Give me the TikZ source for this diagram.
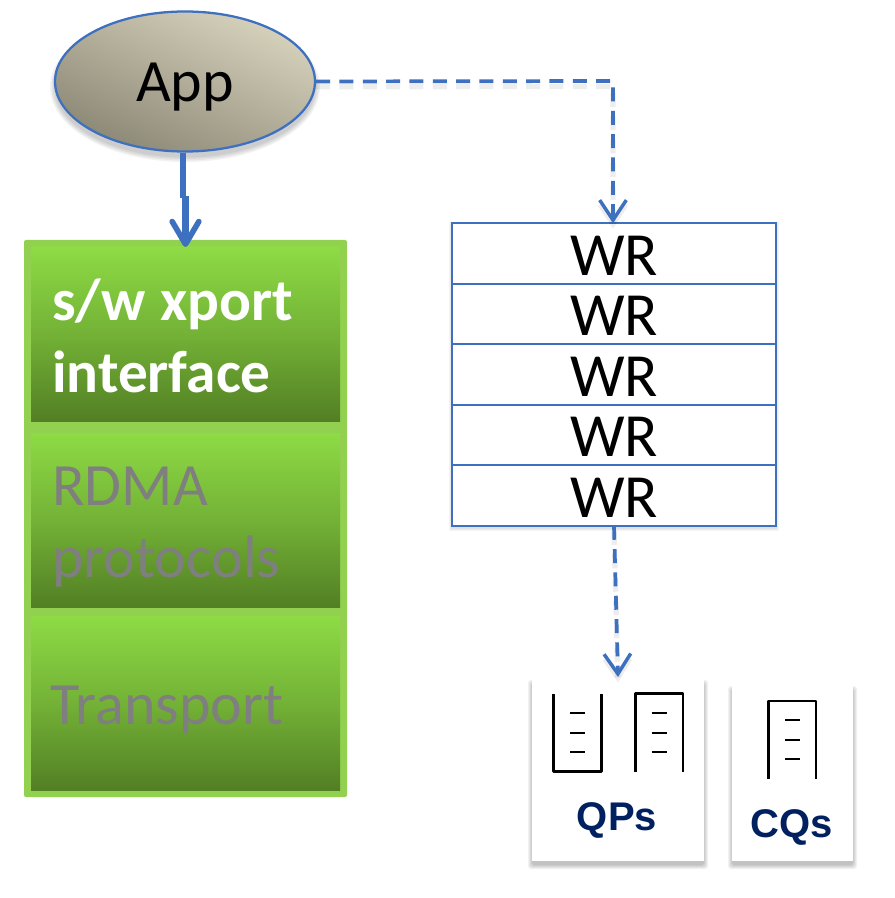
\documentclass[tikz,border=0pt]{standalone}
\usepackage{fontspec}
\setmainfont{Carlito}
\newfontfamily\arialf{Liberation Sans}
\usetikzlibrary{arrows.meta,shapes.geometric,positioning,calc}
\definecolor{lineblue}{HTML}{3E70C0}
\definecolor{outergreen}{HTML}{92D050}
\definecolor{topgreen}{HTML}{8EDB45}
\definecolor{botgreen}{HTML}{527F24}
\definecolor{navy}{HTML}{002060}
\definecolor{greytext}{HTML}{7F7F7F}
\definecolor{tanlight}{HTML}{D6D2BC}
\definecolor{tandark}{HTML}{8C8876}
\newcommand{\lowered}[2]{\raisebox{-#1}[\height][\depth]{#2}}
\tikzset{
  x=0.75pt,y=-0.75pt,
  layerbox/.style={minimum width=231.75pt,minimum height=130.5pt,inner sep=0pt,outer sep=0pt,
     top color=topgreen,bottom color=botgreen,middle color=topgreen!55!botgreen},
  layertext/.style={font=\fontsize{45}{54}\selectfont,align=left,text width=220pt,inner sep=0pt,anchor=west},
  wrbox/.style={draw=lineblue,line width=1.7pt,fill=white,minimum width=243pt,minimum height=45.4pt,inner sep=0pt,outer sep=0pt,
     font=\fontsize{46}{46}\selectfont},
  card/.style={fill=white,inner sep=0pt,outer sep=0pt},
  cardlabel/.style={font=\arialf\bfseries\fontsize{30}{30}\selectfont,text=navy,inner sep=0pt},
  dashconn/.style={draw=lineblue,line width=2.8pt,dash pattern=on 10.5pt off 7pt,
     -{Straight Barb[length=15pt,width=20pt,line width=2.6pt]},
     preaction={draw=black,opacity=0.07,line width=4pt,dash pattern=on 10.5pt off 7pt,transform canvas={yshift=-4pt}}},
  qline/.style={line width=1.8pt,black,line join=round},
}
\newcommand{\softshadow}[5]{% x1 y1 x2 y2 offset
  \foreach \g in {4,3,2,1,0}{
    \fill[black,opacity=0.05,rounded corners=2pt] (#1-\g,#2+#5-\g) rectangle (#3+\g,#4+#5+\g);
  }
}
\begin{document}
\begin{tikzpicture}
\useasboundingbox (0,0) rectangle (894,898);
\fill[white] (0,0) rectangle (894,898);

% green stack
\fill[outergreen,rounded corners=1.5pt] (24,240) rectangle (347,797);
\node[layerbox,minimum height=130.5pt] (sw) at (185.5,334) {};
\node[layerbox] (rdma) at (185.5,520) {};
\node[layerbox] (trans) at (185.5,703) {};
\node[layertext,text=white,font=\fontsize{44.5}{54}\selectfont\bfseries] (swt) at (52,336) {s/w\hspace{-0.09em} xport\\interface};
\node[layertext,text=greytext] (rdmat) at (52,527) {RDMA\\protocols};
\node[layertext,text=greytext] (transt) at (50,710) {Transport};

% App
\foreach \g in {5,3.5,2,0.5}{
  \fill[black,opacity=0.05] (185,87) ellipse ({130+\g} and {70+\g});
}
\node[ellipse,draw=lineblue,line width=1.7pt,minimum width=195pt,minimum height=105pt,inner sep=0pt,
  top color=tanlight,bottom color=tandark,shading angle=-25,
  font=\fontsize{45}{45}\selectfont] (app) at (185,81.5) {\lowered{4pt}{App}};

% WR stack
\foreach \g in {3,2,1}{
  \fill[black,opacity=0.04] (452-\g,223-\g+2) rectangle (776+\g,526+\g+2);
}
\node[wrbox] (w1) at (614,253.5) {\lowered{1.5pt}{WR}};
\node[wrbox] (w2) at (614,314) {\lowered{1.5pt}{WR}};
\node[wrbox] (w3) at (614,374.5) {\lowered{1.5pt}{WR}};
\node[wrbox] (w4) at (614,435) {\lowered{1.5pt}{WR}};
\node[wrbox] (w5) at (614,495.5) {\lowered{1.5pt}{WR}};

% cards
\softshadow{532}{680}{704}{861}{4}
\softshadow{732}{686}{853}{861}{4}
\node[card,minimum width=129pt,minimum height=135.75pt] (qpc) at (618,770.5) {};
\node[card,minimum width=90.75pt,minimum height=131.25pt] (cqc) at (792.5,773.5) {};
\node[cardlabel] (qp) at (617,820) {QPs};
\node[cardlabel] (cq) at (792,827) {CQs};

% queue glyphs
\draw[qline] (553.5,694) -- (553.5,771.5) -- (601.5,771.5) -- (601.5,694);
\draw[qline] (635.5,771.5) -- (635.5,693.5) -- (683,693.5) -- (683,771.5);
\draw[qline] (768.5,778.5) -- (768.5,701) -- (816,701) -- (816,778.5);
\foreach \y in {713,733,752}{
  \draw[qline] (570,\y) -- (585,\y);
  \draw[qline] (651.5,\y) -- (667,\y);
}
\foreach \y in {720,740,759}{
  \draw[qline] (785,\y) -- (800,\y);
}

% connectors
\coordinate (jog1) at (183,198);
\coordinate (jog2) at (185.5,196);
\draw[lineblue,line width=4.6pt] (app.south -| jog1) -- (jog1);
\draw[lineblue,line width=4.6pt,-{Straight Barb[length=17pt,width=20pt,line width=4.2pt,round]}] (jog2) -- (sw.north -| jog2);
\coordinate (corner1) at (613,81);
\draw[dashconn] (app.east) -- (corner1) -- (corner1 |- w1.north);
\coordinate (qptip) at (618,677);
\draw[dashconn] (w5.south) -- (qptip);
\end{tikzpicture}
\end{document}
